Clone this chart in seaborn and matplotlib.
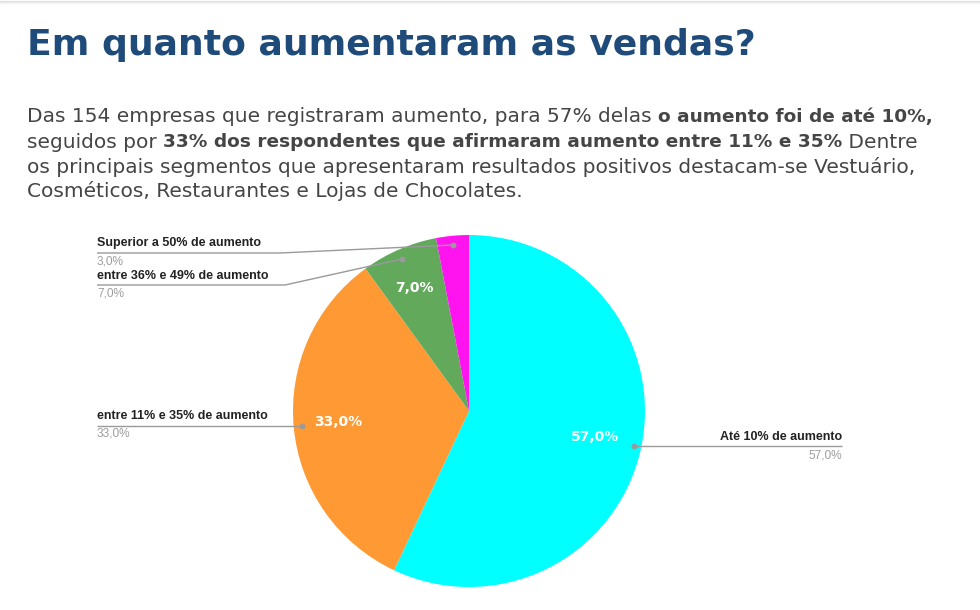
import matplotlib
matplotlib.use("Agg")
import matplotlib.pyplot as plt
import seaborn as sns

# ---- data ----
categories = ["Até 10% de aumento", "entre 11% e 35% de aumento",
              "entre 36% e 49% de aumento", "Superior a 50% de aumento"]
values = [57.0, 33.0, 7.0, 3.0]
colors = ["#00FFFF", "#FF9933", "#62A95C", "#FF14F0"]

title = "Em quanto aumentaram as vendas?"
paragraph = [
    [("Das 154 empresas que registraram aumento, para 57% delas ", "normal"),
     ("o aumento foi de até 10%,", "bold")],
    [("seguidos por ", "normal"),
     ("33% dos respondentes que afirmaram aumento entre 11% e 35%", "bold"),
     (" Dentre", "normal")],
    [("os principais segmentos que apresentaram resultados positivos destacam-se Vestuário,", "normal")],
    [("Cosméticos, Restaurantes e Lojas de Chocolates.", "normal")],
]

sns.set_theme(style="white")
plt.rcParams["font.family"] = ["DejaVu Sans"]

W, H = 980, 610
fig = plt.figure(figsize=(W / 100, H / 100), dpi=100)
ax = fig.add_axes([0, 0, 1, 1])

def fmt(v):
    return f"{v:.1f}".replace(".", ",") + "%"

cx, cy, r = 469, 411, 176
wedges, _ = ax.pie(values, colors=colors, startangle=90, counterclock=False,
                   center=(cx, H - cy), radius=r,
                   wedgeprops=dict(linewidth=0))
ax.set_xlim(0, W)
ax.set_ylim(0, H)
ax.set_aspect("auto")
ax.set_axis_off()

def T(x, y, s, **kw):
    return ax.text(x, H - y, s, **kw)

# top shadow
for i, a in enumerate([0.10, 0.06, 0.03]):
    ax.axhline(H - 0.5 - i, color="#000000", alpha=a, lw=1)

fig.canvas.draw()
rend = fig.canvas.get_renderer()

def width(s, size, weight="normal"):
    p = T(0, -100, s, fontsize=size, fontweight=weight)
    w = p.get_window_extent(renderer=rend).width
    p.remove()
    return w

# title
tsize = 26 * 728 / width(title, 26, "bold")
T(27, 45, title, fontsize=tsize, fontweight="bold", color="#1E4B7A",
  va="center", ha="left")

# paragraph sizes fitted to the reference run widths
n_runs = [paragraph[0][0][0], paragraph[2][0][0], paragraph[3][0][0]]
n_target = 617 + 897 + 489
nsize = 12 * n_target / sum(width(s, 12) for s in n_runs)
b_runs = [paragraph[0][1][0], paragraph[1][1][0]]
b_target = 280 + 670
bsize = 12 * b_target / sum(width(s, 12, "bold") for s in b_runs)
sizes = {"normal": nsize, "bold": bsize}

line_y = [117, 142, 167, 191]
for segs, y in zip(paragraph, line_y):
    x = 27
    for s, w in segs:
        t = T(x, y, s, fontsize=sizes[w], fontweight=w, color="#454545",
              va="center", ha="left")
        x += t.get_window_extent(renderer=rend).width

# inner labels
inner = {0: (595, 437), 1: (338, 422), 2: (414, 288)}
for i, (x, y) in inner.items():
    T(x, y, fmt(values[i]), fontsize=10, fontweight="bold", color="white",
      ha="center", va="center")

lab_kw = dict(fontsize=9.0, fontweight="bold", color="#222222",
              family=["Liberation Sans", "DejaVu Sans"], va="center")
val_kw = dict(fontsize=8.6, color="#9E9E9E",
              family=["Liberation Sans", "DejaVu Sans"], va="center")
lc = "#9A9A9A"

def leader(pts):
    xs = [p[0] for p in pts]
    ys = [H - p[1] for p in pts]
    ax.plot(xs, ys, color=lc, lw=1, solid_capstyle="butt")
    ax.plot(xs[-1], ys[-1], "o", color=lc, ms=3.2)

# Superior a 50%
T(97, 243, categories[3], ha="left", **lab_kw)
T(97, 261, fmt(values[3]), ha="left", **val_kw)
leader([(97, 253), (280, 253), (453, 245)])

# entre 36% e 49%
T(97, 276, categories[2], ha="left", **lab_kw)
T(97, 294, fmt(values[2]), ha="left", **val_kw)
leader([(97, 285), (285, 285), (402, 259)])

# entre 11% e 35%
T(97, 416, categories[1], ha="left", **lab_kw)
T(97, 434, fmt(values[1]), ha="left", **val_kw)
leader([(97, 426), (302, 426)])

# Até 10%
T(842, 437, categories[0], ha="right", **lab_kw)
T(842, 456, fmt(values[0]), ha="right", **val_kw)
leader([(842, 446), (634, 446)])

fig.savefig("out.png", dpi=100)
